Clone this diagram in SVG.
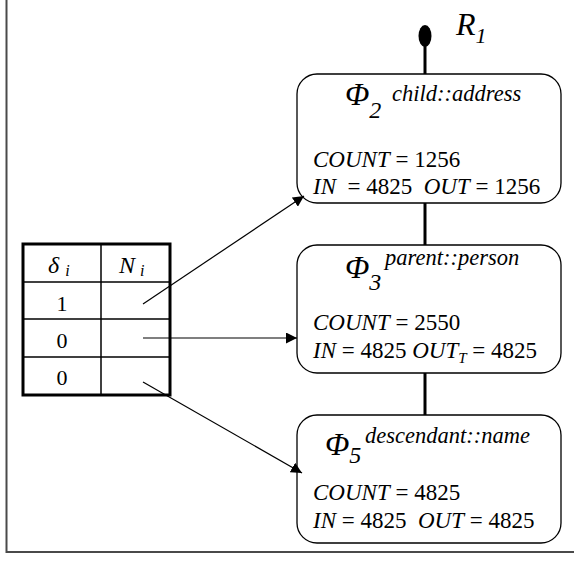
<svg xmlns="http://www.w3.org/2000/svg" width="574" height="564" viewBox="0 0 574 564">
  <style>
    .frame { fill: none; stroke: #4a4a4a; stroke-width: 2; }
    .node rect { fill: #fff; stroke: #000; stroke-width: 1.3; }
    .t { font-family: "Liberation Serif", "Times New Roman", serif; fill: #000; white-space: pre; }
    .it { font-style: italic; }
    .body { font-size: 23px; }
    .phi { font-size: 32px; font-style: italic; }
    .sub { font-size: 24px; font-style: italic; }
    .axis { font-size: 22.5px; font-style: italic; }
    .spine { stroke: #000; stroke-width: 3; fill: none; }
    .edge { stroke: #000; stroke-width: 1.2; fill: none; marker-end: url(#arrow); }
    .grid-out { fill: none; stroke: #000; stroke-width: 3; }
    .grid-in { stroke: #000; stroke-width: 1.5; }
  </style>
  <defs>
    <marker id="arrow" viewBox="0 0 10 10" refX="10" refY="5" markerWidth="11" markerHeight="11" markerUnits="userSpaceOnUse" orient="auto">
      <path d="M0,0 L10,5 L0,10 z" fill="#000"/>
    </marker>
  </defs>

  <!-- page border (left and bottom edges) -->
  <path class="frame" d="M6.5,0 V552 H574"/>

  <!-- vertical plan spine and root marker -->
  <g id="spine">
    <line class="spine" x1="425" y1="40" x2="425" y2="74"/>
    <line class="spine" x1="425" y1="203" x2="425" y2="245"/>
    <line class="spine" x1="425" y1="373" x2="425" y2="415"/>
  </g>
  <g id="root">
    <ellipse cx="425" cy="36" rx="6.5" ry="11" fill="#000"/>
    <text class="t it" x="456" y="35" font-size="32">R<tspan font-size="22" dy="8">1</tspan></text>
  </g>

  <!-- operator nodes -->
  <g id="phi2" class="node">
    <rect x="297" y="74" width="264" height="129" rx="20"/>
    <text class="t phi" x="345" y="105">Φ<tspan class="sub" dy="13">2</tspan></text>
    <text class="t axis" x="392" y="101">child::address</text>
    <text class="t body" x="313" y="167"><tspan class="it">COUNT</tspan> = 1256</text>
    <text class="t body" x="313" y="194"><tspan class="it">IN</tspan>  = 4825  <tspan class="it">OUT</tspan> = 1256</text>
  </g>

  <g id="phi3" class="node">
    <rect x="297" y="245" width="264" height="128" rx="20"/>
    <text class="t phi" x="345" y="278">Φ<tspan class="sub" dy="12">3</tspan></text>
    <text class="t axis" x="385" y="265">parent::person</text>
    <text class="t body" x="313" y="330"><tspan class="it">COUNT</tspan> = 2550</text>
    <text class="t body" x="313" y="358"><tspan class="it">IN</tspan> = 4825 <tspan class="it">OUT<tspan font-size="15" dy="5">T</tspan></tspan><tspan dy="-5"> = 4825</tspan></text>
  </g>

  <g id="phi5" class="node">
    <rect x="297" y="415" width="264" height="128" rx="20"/>
    <text class="t phi" x="325" y="455">Φ<tspan class="sub" dy="8">5</tspan></text>
    <text class="t axis" x="365" y="443">descendant::name</text>
    <text class="t body" x="313" y="500"><tspan class="it">COUNT</tspan> = 4825</text>
    <text class="t body" x="313" y="528"><tspan class="it">IN</tspan> = 4825  <tspan class="it">OUT</tspan> = 4825</text>
  </g>

  <!-- selection table -->
  <g id="table">
    <rect class="grid-out" x="23" y="244" width="147" height="151"/>
    <line class="grid-in" x1="101" y1="244" x2="101" y2="395"/>
    <line class="grid-in" x1="23" y1="282" x2="170" y2="282"/>
    <line class="grid-in" x1="23" y1="319" x2="170" y2="319"/>
    <line class="grid-in" x1="23" y1="357" x2="170" y2="357"/>
    <text class="t it" x="48" y="273" font-size="24">δ<tspan font-size="16" dx="6" dy="3">i</tspan></text>
    <text class="t it" x="119" y="273" font-size="24">N<tspan font-size="16" dx="5" dy="3">i</tspan></text>
    <text class="t" x="62" y="311" font-size="22" text-anchor="middle">1</text>
    <text class="t" x="62" y="348" font-size="22" text-anchor="middle">0</text>
    <text class="t" x="62" y="385" font-size="22" text-anchor="middle">0</text>
  </g>

  <!-- pointers from table rows to nodes -->
  <g id="connectors">
    <line class="edge" x1="143" y1="304" x2="304" y2="196"/>
    <line class="edge" x1="143" y1="338" x2="297" y2="338"/>
    <line class="edge" x1="143" y1="382" x2="302" y2="473"/>
  </g>
</svg>
